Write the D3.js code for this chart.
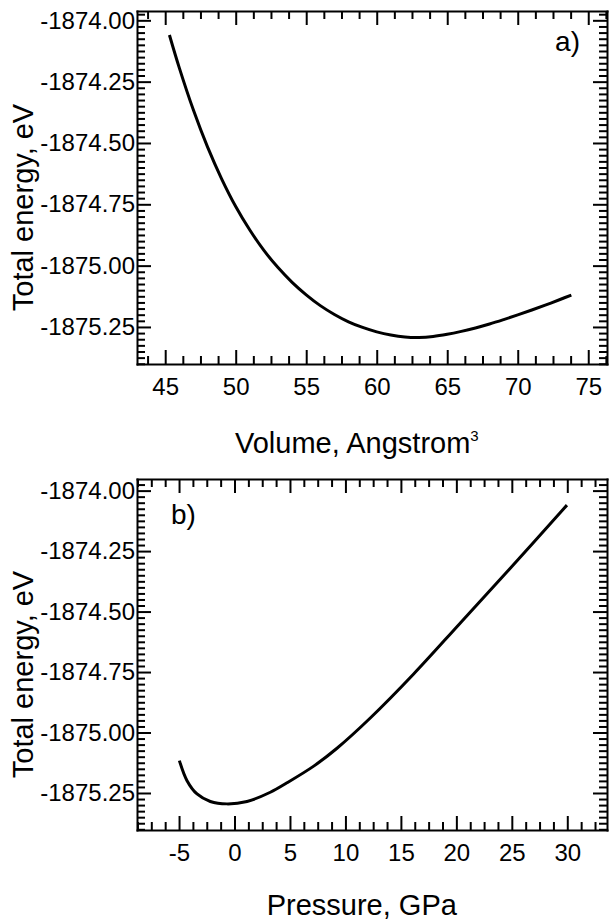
<!DOCTYPE html>
<html>
<head>
<meta charset="utf-8">
<script src="https://cdn.jsdelivr.net/npm/d3@7"></script>
<style>
  body { margin: 0; background: #fff; }
  svg { display: block; }
</style>
</head>
<body>
<script>
// a) total energy vs volume (read off the picture)
const volume  = [45.3, 46, 47, 48, 49, 50, 51, 52, 53, 54, 55, 56, 57, 58, 59, 60,
                 61, 62, 63, 64, 65, 66, 67, 68, 69, 70, 71, 72, 73, 73.8];
const energyV = [-1874.060, -1874.194, -1874.366, -1874.516, -1874.646, -1874.759,
                 -1874.855, -1874.938, -1875.008, -1875.068, -1875.119, -1875.163,
                 -1875.199, -1875.229, -1875.252, -1875.270, -1875.283, -1875.291,
                 -1875.293, -1875.289, -1875.280, -1875.268, -1875.254, -1875.238,
                 -1875.220, -1875.201, -1875.181, -1875.160, -1875.138, -1875.120];

// b) total energy vs pressure
const pressure = [-4.97, -4.28, -3.38, -2.18, -0.68, 1.13, 3.23, 4.73, 7.14, 9.24,
                  12.24, 16.15, 20.36, 24.86, 29.97];
const energyP  = [-1875.116, -1875.199, -1875.254, -1875.285, -1875.295, -1875.285,
                  -1875.247, -1875.208, -1875.139, -1875.065, -1874.940, -1874.758,
                  -1874.547, -1874.321, -1874.060];

const volumeTicks   = [45, 50, 55, 60, 65, 70, 75];
const pressureTicks = [-5, 0, 5, 10, 15, 20, 25, 30];
const energyTicks   = [-1874.00, -1874.25, -1874.50, -1874.75, -1875.00, -1875.25];

const width = 609, height = 922;
const font = "'Liberation Sans', Arial, Helvetica, sans-serif";

const svg = d3.select("body").append("svg")
    .attr("width", width)
    .attr("height", height)
    .style("font-family", font);

function minorTicks(domain, step, major) {
  const [a, b] = d3.extent(domain);
  return d3.range(Math.ceil(a / step), Math.floor(b / step) + 1)
    .map(i => +(i * step).toFixed(4))
    .filter(v => Math.abs(v / major - Math.round(v / major)) > 1e-6);
}

function panel(p) {
  const x = d3.scaleLinear().domain(p.xDomain).range([p.left, p.right]);
  const y = d3.scaleLinear().domain(p.yDomain).range([p.bottom, p.top]);

  const g = svg.append("g");
  const xMinor = minorTicks(p.xDomain, 1.25, 5);
  const yMinor = minorTicks(p.yDomain, 0.025, 0.25);

  const sides = [
    [() => d3.axisBottom(x), `translate(0,${p.bottom})`, p.xTicks, xMinor, d => String(d), 14],
    [() => d3.axisTop(x),    `translate(0,${p.top})`,    p.xTicks, xMinor, null, 0],
    [() => d3.axisLeft(y),   `translate(${p.left},0)`,   p.yTicks, yMinor, d => d.toFixed(2), 2],
    [() => d3.axisRight(y),  `translate(${p.right},0)`,  p.yTicks, yMinor, null, 0]
  ];

  sides.forEach(([make, tr, major, minor, fmt, pad]) => {
    g.append("g")
        .attr("transform", tr)
        .call(make().tickValues(minor).tickSizeInner(-8).tickSizeOuter(0).tickFormat(""))
        .call(s => s.select(".domain").remove());
    g.append("g")
        .attr("transform", tr)
        .call(make().tickValues(major).tickSizeInner(-14).tickSizeOuter(0)
               .tickPadding(pad).tickFormat(fmt || (() => "")))
        .attr("font-family", font)
        .attr("font-size", 24);
  });

  g.selectAll("line").attr("stroke", "#000").attr("stroke-width", 2);
  g.selectAll(".domain").attr("stroke", "#000").attr("stroke-width", 2)
      .attr("stroke-linecap", "square");
  g.selectAll("text").attr("fill", "#000");

  const line = d3.line()
      .x(d => x(d[0]))
      .y(d => y(d[1]))
      .curve(d3.curveCatmullRom.alpha(0.5));

  g.append("path")
      .datum(d3.zip(p.xs, p.ys))
      .attr("fill", "none")
      .attr("stroke", "#000")
      .attr("stroke-width", 3)
      .attr("d", line);

  g.append("text")
      .attr("transform", `translate(33,${(p.top + p.bottom) / 2 + 20}) rotate(-90)`)
      .attr("text-anchor", "middle")
      .attr("font-size", 29)
      .text("Total energy, eV");

  return g;
}

const a = panel({
  left: 137, right: 607, top: 11, bottom: 364,
  xDomain: [43, 76.33], yDomain: [-1875.401, -1873.962],
  xTicks: volumeTicks, yTicks: energyTicks,
  xs: volume, ys: energyV
});

const xa = a.append("text")
    .attr("x", 235)
    .attr("y", 453)
    .attr("font-size", 29);
xa.append("tspan").text("Volume, Angstrom");
xa.append("tspan").attr("font-size", 15).attr("dy", -12).text("3");

a.append("text")
    .attr("x", 580)
    .attr("y", 51)
    .attr("text-anchor", "end")
    .attr("font-size", 28)
    .text("a)");

const b = panel({
  left: 137, right: 607, top: 479, bottom: 830,
  xDomain: [-8.79, 33.58], yDomain: [-1875.403, -1873.952],
  xTicks: pressureTicks, yTicks: energyTicks,
  xs: pressure, ys: energyP
});

b.append("text")
    .attr("x", 266.7)
    .attr("y", 915)
    .attr("font-size", 29)
    .text("Pressure, GPa");

b.append("text")
    .attr("x", 171)
    .attr("y", 524)
    .attr("font-size", 28)
    .text("b)");
</script>
</body>
</html>
